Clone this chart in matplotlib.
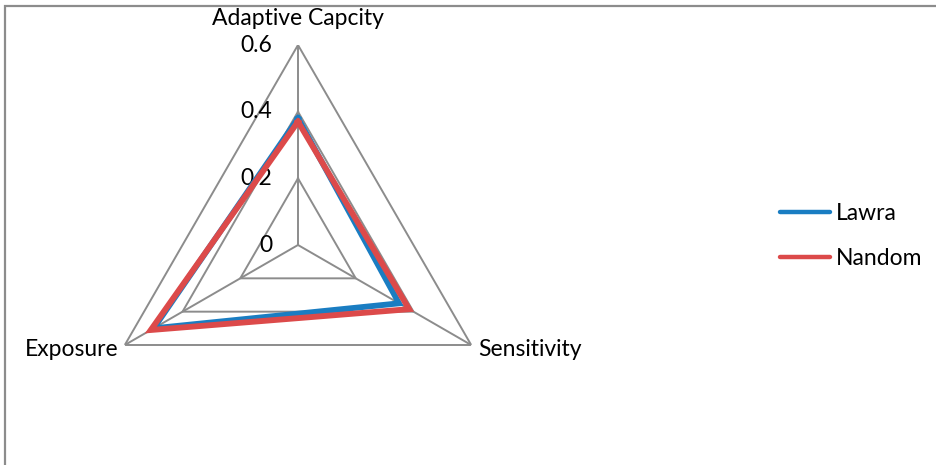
import numpy as np
import matplotlib.pyplot as plt
from matplotlib.patches import Rectangle
from matplotlib.lines import Line2D

categories = ["Adaptive Capcity", "Sensitivity", "Exposure"]
lawra = [0.38, 0.35, 0.50]
nandom = [0.37, 0.385, 0.51]
rings = [0.2, 0.4, 0.6]
ring_labels = ["0", "0.2", "0.4", "0.6"]
colors = {"Lawra": "#1a7dc2", "Nandom": "#dc4a4a"}

plt.rcParams["font.family"] = ["Lato", "DejaVu Sans"]
FS = 16.5

W, H = 937, 465
fig = plt.figure(figsize=(W / 100, H / 100), dpi=100)

# frame around the chart area (bottom and right run off the canvas)
fig.patches.append(Rectangle((4.5 / W, -0.1), 1.2, (H - 6) / H + 0.1,
                             transform=fig.transFigure, fill=False,
                             edgecolor="#8c8c8c", linewidth=1.6))

cx, cy, rad = 298, 245, 200
ax = fig.add_axes([(cx - rad) / W, (H - cy - rad) / H, 2 * rad / W, 2 * rad / H],
                  projection="polar")
ax.set_theta_offset(np.pi / 2)
ax.set_theta_direction(-1)
ax.set_ylim(0, 0.6)
ax.axis("off")

angles = np.linspace(0, 2 * np.pi, len(categories), endpoint=False)
closed = np.append(angles, angles[0])

grid_kw = dict(color="#8c8c8c", linewidth=1.4, zorder=1)
for r in rings:
    ax.plot(closed, [r] * len(closed), **grid_kw)
for a in angles:
    ax.plot([a, a], [0, 0.6], **grid_kw)

for r, lab in zip([0] + rings, ring_labels):
    ax.annotate(lab, (0, r), xytext=(-26, 0), textcoords="offset pixels",
                ha="right", va="center", fontsize=FS, zorder=3)

ax.plot(closed, lawra + lawra[:1], color=colors["Lawra"], linewidth=4.2,
        solid_joinstyle="miter", zorder=4)
ax.plot(closed, nandom + nandom[:1], color=colors["Nandom"], linewidth=4.2,
        solid_joinstyle="miter", zorder=5)

# category labels at the outer ring
ax.annotate(categories[0], (angles[0], 0.6), xytext=(0, 16), textcoords="offset pixels",
            ha="center", va="bottom", fontsize=FS, annotation_clip=False)
ax.annotate(categories[1], (angles[1], 0.6), xytext=(7, -4), textcoords="offset pixels",
            ha="left", va="center", fontsize=FS, annotation_clip=False)
ax.annotate(categories[2], (angles[2], 0.6), xytext=(-6, -4), textcoords="offset pixels",
            ha="right", va="center", fontsize=FS, annotation_clip=False)

handles = [Line2D([], [], color=c, linewidth=3.2, solid_capstyle="round")
           for c in colors.values()]
fig.legend(handles=handles, labels=list(colors), loc="center left",
           bbox_to_anchor=(780 / W, (H - 236) / H), frameon=False, fontsize=FS,
           handlelength=2.2, handletextpad=0.25, labelspacing=1.05,
           borderaxespad=0, borderpad=0)

fig.savefig("out.png", dpi=100, facecolor="white")
